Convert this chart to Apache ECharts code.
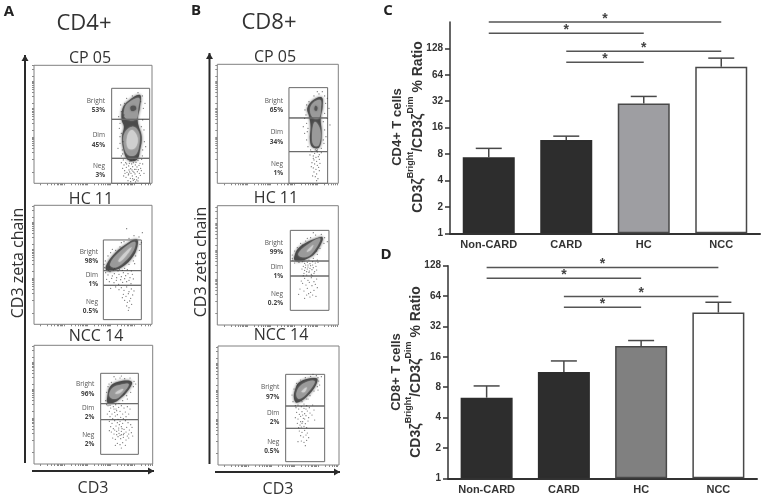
<!DOCTYPE html>
<html>
<head>
<meta charset="utf-8">
<style type="text/css">
	html,body{margin:0;padding:0;background:#fff;}
	#chart{width:764px;height:499px;}
</style>
<script src="https://cdn.jsdelivr.net/npm/echarts@6/dist/echarts.min.js"></script>
</head>
<body>
<div id="chart"></div>
<script>
// bar panels C and D
var groups = ['Non-CARD', 'CARD', 'HC', 'NCC'];
var ratioTicks = [1, 2, 4, 8, 16, 32, 64, 128];
var cd4Ratio = [7.34, 11.56, 30.2, 79];
var cd4ErrTop = [9.29, 12.8, 36.3, 99.2];
var cd8Ratio = [6.3, 11.3, 20.5, 43.9];
var cd8ErrTop = [8.23, 14.56, 23.2, 55.6];
// significance bars: from group, to group, height on the ratio axis
var cd4Sig = [[0, 3, 256], [0, 2, 191], [1, 3, 119], [1, 2, 89]];
var cd8Sig = [[0, 3, 122.6], [0, 2, 96], [1, 3, 63.2], [1, 2, 49.5]];

// flow gates: x range, then y limits from Neg bottom to Bright top
var gateXA1 = [233, 347], gateYA1 = [0, 75, 192, 285];
var gateXA2 = [208, 322], gateYA2 = [14, 117, 161, 253];
var gateXA3 = [200, 313], gateYA3 = [29, 133, 181, 272];
var gateXB1 = [215, 331], gateYB1 = [0, 95, 196, 287];
var gateXB2 = [219, 335], gateYB2 = [44, 147, 192, 284];
var gateXB3 = [203, 320], gateYB3 = [10, 110, 177, 272];

var pctA1 = ['53%', '45%', '3%'];
var pctA2 = ['98%', '1%', '0.5%'];
var pctA3 = ['96%', '2%', '2%'];
var pctB1 = ['65%', '34%', '1%'];
var pctB2 = ['99%', '1%', '0.2%'];
var pctB3 = ['97%', '2%', '0.5%'];

// density contours: [level, outline]
var contourA1 = [
	[0, [[318,265],[283,247],[266,225],[263,190],[270,170],[264,140],[270,95],[283,70],[308,70],[318,100],[323,140],[313,175],[311,195],[318,230]]],
	[1, [[315,256],[286,244],[272,226],[274,196],[306,192],[313,226]]],
	[1, [[295,170],[272,152],[269,118],[281,86],[305,86],[317,125],[314,155]]],
	[2, [[294,160],[280,142],[282,106],[303,106],[311,135]]],
	[3, [[290,230],[303,232],[306,222],[293,217]]]
];
var contourA2 = [
	[0, [[216,175],[238,208],[273,238],[308,255],[310,233],[293,198],[263,171],[233,160],[218,161]]],
	[1, [[228,180],[256,217],[302,248],[299,222],[270,186],[242,170]]],
	[2, [[253,191],[276,218],[293,231],[278,208],[258,188]]]
];
var contourA3 = [
	[0, [[220,202],[228,232],[253,247],[293,247],[283,222],[253,192],[233,182],[220,184]]],
	[1, [[226,204],[235,228],[260,238],[284,240],[270,216],[245,195]]],
	[2, [[243,212],[258,222],[268,224],[256,212]]]
];
var contourB1 = [
	[0, [[313,258],[288,250],[270,225],[276,200],[280,170],[278,130],[286,108],[306,108],[313,150],[310,195],[316,230]]],
	[1, [[309,250],[288,242],[278,220],[288,196],[305,196],[311,226]]],
	[1, [[292,184],[284,135],[291,113],[305,115],[309,160]]],
	[3, [[294,232],[300,228],[298,218],[292,220]]]
];
var contourB2 = [
	[0, [[230,200],[248,235],[313,265],[316,255],[293,215],[268,198],[238,191]]],
	[1, [[243,210],[260,233],[308,260],[292,224],[268,204]]],
	[2, [[268,220],[288,240],[280,225]]]
];
var contourB3 = [
	[0, [[231,225],[246,250],[296,260],[294,240],[266,205],[236,187],[228,200]]],
	[1, [[235,215],[253,243],[290,252],[270,218],[243,198]]],
	[2, [[251,220],[266,233],[261,220]]]
];

// events outside the contours
var eventsA1 = [[268,70],[275,62],[281,73],[288,66],[293,58],[300,71],[306,63],[312,69],[318,60],[323,72],[270,55],[277,48],[284,52],[290,44],[296,50],[302,42],[309,49],[315,54],[320,45],[272,38],[279,33],[285,40],[291,30],[297,36],[303,28],[310,35],[316,30],[322,38],[269,22],[276,18],[283,25],[289,15],[295,22],[301,12],[307,20],[313,16],[319,24],[282,8],[290,5],[298,9],[305,4],[312,7],[286,60],[292,68],[298,62],[304,55],[294,40],[300,33],[287,34],[306,42],[313,41],[278,58],[284,28],[296,14],[308,10],[273,30],[266,45],[326,58],[262,62],[330,30],[258,180],[262,150],[258,120],[265,100],[262,215],[260,235],[272,240],[278,255],[295,262],[312,272],[325,262],[328,225],[326,190],[330,160],[331,125],[326,100],[325,82],[262,82],[266,88],[258,140],[256,165],[322,170],[320,245],[270,205],[267,125],[335,110],[333,240],[252,105],[254,200]];
var eventsA2 = [[215,155],[222,148],[228,158],[235,145],[241,152],[248,140],[255,150],[262,143],[268,155],[275,146],[282,152],[288,140],[295,150],[218,135],[226,128],[233,138],[240,125],[247,132],[254,120],[260,134],[266,126],[272,137],[278,128],[285,132],[291,122],[298,136],[224,162],[238,163],[252,160],[265,162],[280,164],[292,160],[262,110],[270,102],[278,112],[285,98],[292,106],[268,90],[276,84],[283,92],[290,78],[296,88],[272,72],[280,66],[287,70],[293,60],[278,55],[285,50],[265,80],[300,100],[255,104],[245,112],[230,108],[283,42],[212,170],[214,190],[222,205],[230,215],[245,222],[258,232],[270,248],[285,258],[300,266],[315,262],[322,245],[316,222],[305,205],[298,190],[285,180],[272,168],[256,165],[242,168],[226,172],[210,180],[235,225],[262,245],[325,275],[278,287],[318,240],[302,182]];
var eventsA3 = [[215,190],[218,215],[222,232],[232,245],[245,255],[258,258],[272,256],[288,258],[300,248],[298,232],[290,215],[278,205],[266,190],[255,182],[245,178],[228,176],[218,178],[240,262],[262,264],[305,240],[225,240],[280,195],[270,210],[222,175],[230,168],[238,172],[246,165],[254,170],[262,175],[270,168],[280,172],[226,158],[234,150],[242,155],[250,148],[258,158],[266,150],[274,156],[228,142],[236,136],[244,144],[252,134],[260,140],[268,136],[276,142],[284,150],[220,150],[288,165],[248,160],[240,165],[226,128],[234,122],[242,130],[250,124],[258,128],[266,122],[274,130],[282,124],[290,118],[230,112],[238,106],[246,114],[254,108],[262,112],[270,104],[278,110],[286,102],[294,110],[232,96],[240,90],[248,98],[255,92],[262,98],[268,88],[276,96],[284,90],[292,94],[236,78],[244,74],[252,82],[260,76],[268,80],[276,72],[284,78],[250,62],[258,58],[266,64],[274,56],[258,86],[254,102],[262,88],[264,106],[256,118],[248,88],[270,92],[242,102],[280,84],[226,100],[296,84],[262,48],[244,56]];
var eventsB1 = [[263,220],[262,195],[268,180],[270,155],[268,130],[272,110],[280,100],[298,98],[312,105],[318,130],[322,160],[318,185],[322,210],[325,240],[322,262],[305,268],[290,262],[275,245],[268,235],[330,255],[335,225],[338,175],[262,150],[258,170],[326,140],[315,275],[300,275],[266,205],[272,165],[320,120],[330,195],[284,95],[292,90],[300,94],[306,86],[288,82],[296,78],[303,80],[290,70],[298,66],[306,72],[284,62],[292,58],[300,54],[288,46],[296,42],[304,48],[290,34],[298,28],[282,50],[306,38],[294,20],[302,14],[286,22],[298,8],[288,75],[308,60],[278,85],[312,92],[300,100],[294,100]];
var eventsB2 = [[226,195],[225,210],[232,222],[240,232],[250,245],[265,252],[280,262],[295,270],[312,272],[322,262],[320,245],[308,230],[300,212],[288,200],[275,195],[260,192],[245,188],[232,186],[288,277],[270,260],[330,250],[225,200],[255,240],[300,195],[298,222],[255,190],[262,185],[270,188],[278,184],[286,190],[294,186],[302,188],[258,176],[265,180],[272,174],[280,178],[288,172],[296,176],[254,168],[262,164],[270,168],[276,162],[284,166],[292,160],[260,155],[268,150],[275,158],[282,152],[290,155],[298,165],[264,172],[278,170],[286,180],[272,180],[268,160],[258,148],[284,148],[262,140],[272,134],[282,142],[290,130],[298,138],[256,125],[266,120],[276,128],[284,118],[294,122],[248,108],[260,102],[270,110],[280,98],[290,104],[268,90],[278,84],[286,90],[296,86],[262,80],[274,94],[252,132],[300,112],[244,92]];
var eventsB3 = [[225,190],[222,210],[228,228],[238,240],[248,255],[262,262],[278,266],[295,268],[302,252],[298,235],[288,222],[276,208],[265,198],[252,190],[240,180],[232,178],[305,240],[285,272],[300,262],[270,198],[258,183],[300,225],[310,265],[236,245],[234,172],[242,168],[250,175],[258,170],[266,178],[274,172],[284,180],[236,158],[244,152],[252,160],[260,154],[268,162],[276,156],[232,142],[240,138],[248,146],[256,140],[264,148],[272,142],[282,150],[288,165],[238,125],[246,120],[254,130],[262,124],[270,132],[242,112],[250,114],[258,116],[266,112],[254,150],[260,138],[248,130],[290,135],[264,168],[252,125],[244,102],[252,98],[260,104],[268,96],[248,88],[256,84],[264,90],[272,82],[250,72],[258,68],[266,74],[262,58],[240,70]];

var flowTickX = [20, 90, 160, 230, 300];
var flowTickY = [72, 158, 240, 320];
var decadeSteps = [0, 21, 33, 42, 49, 54, 59, 63, 66];

var levelColors = ['#4a4a4a', '#9a9a9a', '#cfcfcf', '#555555'];
var barColors4 = ['#2d2d2d', '#2d2d2d', '#9e9ea2', '#ffffff'];
var barColors8 = ['#2d2d2d', '#2d2d2d', '#808080', '#ffffff'];

var flowPanels = [
	{grid: [34, 65.3, 118, 118], max: [354, 354], gx: gateXA1, gy: gateYA1, contour: contourA1, events: eventsA1, pct: pctA1, lx: 105, ly: [100.7, 135.3, 165.7]},
	{grid: [34, 205.3, 118, 119], max: [354, 357], gx: gateXA2, gy: gateYA2, contour: contourA2, events: eventsA2, pct: pctA2, lx: 98, ly: [251.7, 275, 301.7]},
	{grid: [34, 345.3, 118.7, 118.7], max: [356, 356], gx: gateXA3, gy: gateYA3, contour: contourA3, events: eventsA3, pct: pctA3, lx: 94.3, ly: [384.3, 408, 434.7]},
	{grid: [217.3, 64.3, 121, 119], max: [363, 357], gx: gateXB1, gy: gateYB1, contour: contourB1, events: eventsB1, pct: pctB1, lx: 283, ly: [100.7, 132.3, 164]},
	{grid: [217.3, 205.7, 121, 119.3], max: [363, 358], gx: gateXB2, gy: gateYB2, contour: contourB2, events: eventsB2, pct: pctB2, lx: 283, ly: [243, 267, 293.7]},
	{grid: [218, 346, 121, 119], max: [363, 357], gx: gateXB3, gy: gateYB3, contour: contourB3, events: eventsB3, pct: pctB3, lx: 279.3, ly: [387.3, 413, 442]}
];
var gateNames = ['Bright', 'Dim', 'Neg'];

var chart = echarts.init(document.getElementById('chart'));
var barFont = '"Liberation Sans", Arial, sans-serif';
var flowFont = '"Open Sans", sans-serif';

function logTicks(majors, max, extra) {
	var out = extra ? extra.slice() : [];
	majors.forEach(function (m) {
		decadeSteps.forEach(function (s) {
			if (m + s < max) out.push(m + s);
		});
	});
	return out;
}

var grids = [], xAxes = [], yAxes = [], series = [], graphics = [];

function flowPanel(p, idx) {
	grids.push({left: p.grid[0], top: p.grid[1], width: p.grid[2], height: p.grid[3], show: true, borderColor: '#808080', borderWidth: 1, backgroundColor: '#fff'});
	xAxes.push({gridIndex: idx, type: 'value', min: 0, max: p.max[0], splitLine: {show: false}, axisLine: {show: false}, axisLabel: {show: false},
		axisTick: {show: true, length: 2, lineStyle: {color: '#888', width: 1}, customValues: logTicks(flowTickX, p.max[0])}});
	yAxes.push({gridIndex: idx, type: 'value', min: 0, max: p.max[1], splitLine: {show: false}, axisLine: {show: false}, axisLabel: {show: false},
		axisTick: {show: true, length: 2, lineStyle: {color: '#888', width: 1}, customValues: logTicks(flowTickY, p.max[1], [34])}});
	series.push({
		type: 'scatter', xAxisIndex: idx, yAxisIndex: idx, data: p.events, symbol: 'circle', symbolSize: 1.2, silent: true,
		itemStyle: {color: '#3a3a3a', opacity: 0.75}
	});
	series.push({
		type: 'custom', xAxisIndex: idx, yAxisIndex: idx, silent: true,
		data: p.contour.map(function (c) { return c[1][0]; }),
		renderItem: function (params, api) {
			var c = p.contour[params.dataIndex];
			return {
				type: 'polygon',
				shape: {points: c[1].map(function (pt) { return api.coord(pt); }), smooth: 0.4},
				style: {fill: levelColors[c[0]], shadowBlur: c[0] === 0 ? 3 : 2, shadowColor: levelColors[c[0]]}
			};
		}
	});
	var bands = [];
	for (var i = 0; i < 3; i++) bands.push([p.gx[0], p.gy[i], p.gx[1], p.gy[i + 1]]);
	series.push({
		type: 'custom', xAxisIndex: idx, yAxisIndex: idx, silent: true, data: bands, encode: {x: [0, 2], y: [1, 3]},
		renderItem: function (params, api) {
			var a = api.coord([api.value(0), api.value(3)]);
			var b = api.coord([api.value(2), api.value(1)]);
			return {type: 'rect', shape: {x: a[0], y: a[1], width: b[0] - a[0], height: b[1] - a[1]}, style: {fill: 'none', stroke: '#6a6a6a', lineWidth: 1}};
		}
	});
	gateNames.forEach(function (name, k) {
		graphics.push(txt(p.lx, p.ly[k], name, '6.5px ' + flowFont, '#555', 'right'));
		graphics.push(txt(p.lx, p.ly[k] + 9.5, p.pct[k], 'bold 6.5px ' + flowFont, '#444', 'right'));
	});
}

function txt(x, y, text, font, color, align, rot) {
	return {type: 'text', x: x, y: y, rotation: rot || 0, z: 50, silent: true,
		style: {text: text, font: font, fill: color, align: align || 'center', verticalAlign: 'middle'}};
}

function barPanel(idx, box, yMax, values, errTop, sig, colors) {
	grids.push({left: box[0], top: box[1], width: box[2], height: box[3]});
	xAxes.push({gridIndex: idx, type: 'category', data: groups,
		axisLine: {lineStyle: {color: '#333', width: 2}}, axisTick: {show: false},
		axisLabel: {color: '#333', fontFamily: barFont, fontWeight: 'bold', fontSize: 11, margin: 6, interval: 0}});
	yAxes.push({gridIndex: idx, type: 'log', logBase: 2, min: 1, max: yMax,
		splitLine: {show: false}, minorTick: {show: false},
		axisLine: {show: true, lineStyle: {color: '#333', width: 1.5}},
		axisTick: {show: true, length: 5, lineStyle: {color: '#333', width: 1.5}, customValues: ratioTicks},
		axisLabel: {color: '#333', fontFamily: barFont, fontWeight: 'bold', fontSize: 10, margin: 7, customValues: ratioTicks}});
	series.push({
		type: 'bar', xAxisIndex: idx, yAxisIndex: idx, barWidth: 52, silent: true,
		data: values.map(function (v, i) {
			return {value: v, itemStyle: {color: colors[i], borderColor: i < 2 ? '#2d2d2d' : '#484848', borderWidth: 1.5}};
		})
	});
	series.push({
		type: 'custom', xAxisIndex: idx, yAxisIndex: idx, silent: true, clip: false, z: 1,
		data: values.map(function (v, i) { return [i, errTop[i], v]; }), encode: {x: 0, y: 1},
		renderItem: function (params, api) {
			var top = api.coord([api.value(0), api.value(1)]);
			var base = api.coord([api.value(0), api.value(2)]);
			var st = {stroke: '#484848', lineWidth: 1.5, fill: 'none'};
			return {type: 'group', children: [
				{type: 'line', shape: {x1: top[0], y1: top[1], x2: base[0], y2: base[1]}, style: st},
				{type: 'line', shape: {x1: top[0] - 13, y1: top[1], x2: top[0] + 13, y2: top[1]}, style: st}
			]};
		}
	});
	series.push({
		type: 'custom', xAxisIndex: idx, yAxisIndex: idx, silent: true, clip: false,
		data: sig, encode: {x: [0, 1], y: 2},
		renderItem: function (params, api) {
			var s = sig[params.dataIndex];
			var a = api.coord([s[0], s[2]]);
			var b = api.coord([s[1], s[2]]);
			return {type: 'group', children: [
				{type: 'line', shape: {x1: a[0], y1: a[1], x2: b[0], y2: b[1]}, style: {stroke: '#555', lineWidth: 1.5}},
				{type: 'text', x: (a[0] + b[0]) / 2, y: a[1] - 3, style: {text: '*', font: 'bold 14px ' + barFont, fill: '#444', align: 'center', verticalAlign: 'middle'}}
			]};
		}
	});
}

function ratioTitle(x1, x2, cy, cell) {
	graphics.push(txt(x1, cy, cell, 'bold 13px ' + barFont, '#333', 'center', Math.PI / 2));
	graphics.push({type: 'text', x: x2, y: cy, rotation: Math.PI / 2, z: 50, silent: true, style: {
		text: '{n|CD3ζ}{s|Bright}{n|/CD3ζ}{s|Dim}{n| % Ratio}',
		align: 'center', verticalAlign: 'middle',
		rich: {
			n: {font: 'bold 14px ' + barFont, fill: '#333', lineHeight: 19, verticalAlign: 'bottom'},
			s: {font: 'bold 9px ' + barFont, fill: '#333', lineHeight: 19, verticalAlign: 'top'}
		}
	}});
}

function arrow(x1, y1, x2, y2) {
	var dx = x2 > x1 ? 1 : 0;
	var pts = dx ? [[x2, y2], [x2 - 6, y2 - 3.5], [x2 - 6, y2 + 3.5]] : [[x2, y2], [x2 - 3.5, y2 + 6], [x2 + 3.5, y2 + 6]];
	graphics.push({type: 'line', z: 40, silent: true, shape: {x1: x1, y1: y1, x2: x2, y2: y2}, style: {stroke: '#2a2a2a', lineWidth: 2}});
	graphics.push({type: 'polygon', z: 40, silent: true, shape: {points: pts}, style: {fill: '#2a2a2a'}});
}

flowPanels.forEach(flowPanel);
barPanel(6, [450, 22, 310, 211.3], 256, cd4Ratio, cd4ErrTop, cd4Sig, barColors4);
barPanel(7, [448, 265.7, 309, 212.6], 128, cd8Ratio, cd8ErrTop, cd8Sig, barColors8);

ratioTitle(397, 416, 127, 'CD4+ T cells');
ratioTitle(396, 414, 372, 'CD8+ T cells');

graphics.push(txt(9, 12, 'A', 'bold 15px ' + flowFont, '#222'));
graphics.push(txt(196, 11, 'B', 'bold 15px ' + flowFont, '#222'));
graphics.push(txt(388, 11, 'C', 'bold 15px ' + flowFont, '#222'));
graphics.push(txt(386, 255, 'D', 'bold 15px ' + flowFont, '#222'));

graphics.push(txt(84, 24, 'CD4+', '22px ' + flowFont, '#333'));
graphics.push(txt(269, 23, 'CD8+', '22px ' + flowFont, '#333'));
graphics.push(txt(90, 58, 'CP 05', '16px ' + flowFont, '#333'));
graphics.push(txt(91, 199, 'HC 11', '16px ' + flowFont, '#333'));
graphics.push(txt(96, 336, 'NCC 14', '16px ' + flowFont, '#333'));
graphics.push(txt(275, 57, 'CP 05', '16px ' + flowFont, '#333'));
graphics.push(txt(276, 198, 'HC 11', '16px ' + flowFont, '#333'));
graphics.push(txt(281, 335, 'NCC 14', '16px ' + flowFont, '#333'));
graphics.push(txt(93, 488, 'CD3', '16px ' + flowFont, '#333'));
graphics.push(txt(278, 489, 'CD3', '16px ' + flowFont, '#333'));
graphics.push(txt(18, 263, 'CD3 zeta chain', '16px ' + flowFont, '#333', 'center', Math.PI / 2));
graphics.push(txt(201, 262, 'CD3 zeta chain', '16px ' + flowFont, '#333', 'center', Math.PI / 2));

arrow(25, 463, 25, 55);
arrow(32, 471, 154, 471);
arrow(209.5, 464, 209.5, 53);
arrow(215, 472, 340, 472);

chart.setOption({
	backgroundColor: '#fff',
	animation: false,
	grid: grids,
	xAxis: xAxes,
	yAxis: yAxes,
	series: series,
	graphic: {elements: graphics}
});
</script>
</body>
</html>
